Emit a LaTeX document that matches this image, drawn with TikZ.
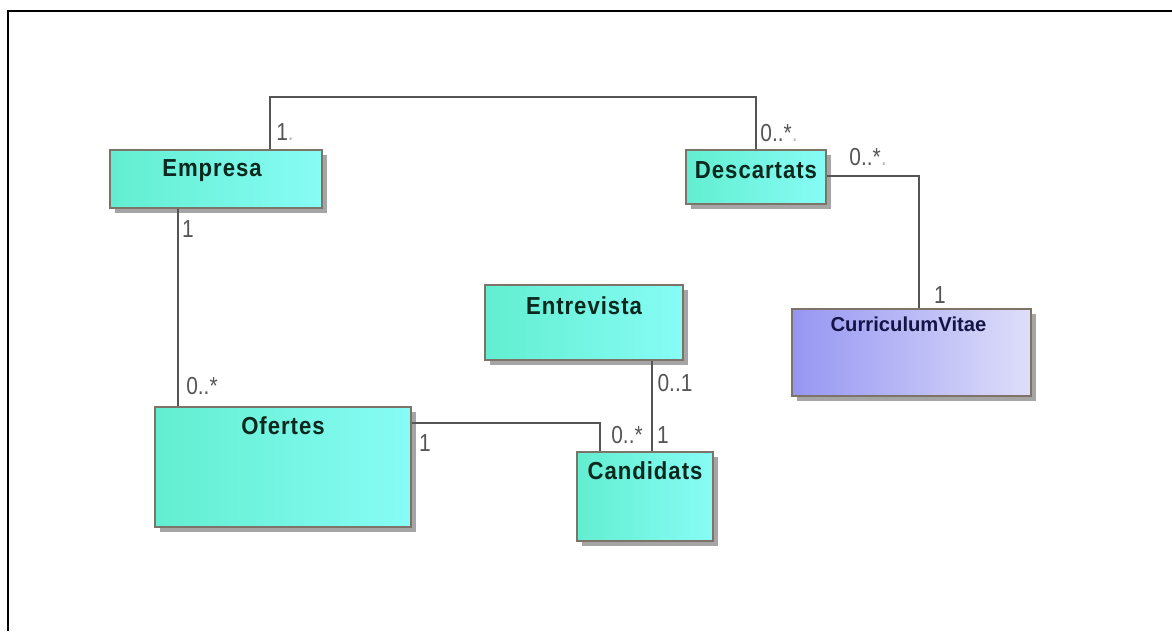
\documentclass[tikz,border=0pt]{standalone}
\usepackage{fontspec}
\usepackage{xcolor}
\usepackage{tikz}
\usetikzlibrary{shadows}
\setmainfont{Liberation Sans}
\newfontfamily\tenlopfont[LetterSpace=4,FakeStretch=0.9]{Liberation Sans}
\newfontfamily\boifont[FakeStretch=0.85]{Liberation Sans}
\definecolor{lopTrai}{RGB}{98,238,208}
\definecolor{lopPhai}{RGB}{135,252,245}
\definecolor{cvTrai}{RGB}{150,150,242}
\definecolor{cvPhai}{RGB}{222,222,250}
\definecolor{vienLop}{RGB}{125,115,105}
\definecolor{bong}{RGB}{165,165,165}
\definecolor{chuLop}{RGB}{10,40,30}
\definecolor{chuCV}{RGB}{20,20,70}
\definecolor{duong}{RGB}{85,85,85}
\definecolor{mo}{RGB}{185,185,185}
\tikzset{
	lop/.style={draw=vienLop, line width=0.35mm, left color=lopTrai, right color=lopPhai,
		drop shadow={shadow xshift=1mm, shadow yshift=-1mm, fill=bong, opacity=1}},
	lopcv/.style={lop, left color=cvTrai, right color=cvPhai},
	tieude/.style={anchor=center, text=chuLop, font=\tenlopfont\bfseries\fontsize{14}{16}\selectfont},
	tieudecv/.style={anchor=center, text=chuCV, font=\bfseries\fontsize{11.5}{13}\selectfont},
	lienket/.style={draw=duong, line width=0.35mm},
	boi/.style={text=duong, inner sep=0pt, font=\boifont\fontsize{14}{16}\selectfont}
}

\begin{document}
\begin{tikzpicture}[x=0.2mm, y=-0.2mm]
			\useasboundingbox (0,0) rectangle (1172,631);
			% Khung
			\draw[line width=0.45mm] (8,631) -- (8,11) -- (1172,11);
			% Các lớp
			\node[lop, minimum width=42.4mm, minimum height=11.6mm,
				label={[tieude, xshift=-0.8mm, yshift=-4.2mm]north:Empresa}] (empresa) at (216,179) {};
			\node[lop, minimum width=28mm, minimum height=10.8mm,
				label={[tieude, yshift=-4.2mm]north:Descartats}] (descartats) at (756,177) {};
			\node[lop, minimum width=39.6mm, minimum height=15mm,
				label={[tieude, yshift=-4.4mm]north:Entrevista}] (entrevista) at (584,322.5) {};
			\node[lopcv, minimum width=47.8mm, minimum height=17.4mm,
				label={[tieudecv, xshift=-0.6mm, yshift=-3.2mm]north:CurriculumVitae}] (cv) at (911.5,352.5) {};
			\node[lop, minimum width=51.2mm, minimum height=24mm,
				label={[tieude, yshift=-4mm]north:Ofertes}] (ofertes) at (283,467) {};
			\node[lop, minimum width=27.2mm, minimum height=17.8mm,
				label={[tieude, yshift=-4mm]north:Candidats}] (candidats) at (645,496.5) {};
			% Các liên kết
			\coordinate (ed) at (270,97);
			\coordinate (dc) at (919,176);
			\coordinate (eo) at (178,0);
			\coordinate (oc) at (600,423);
			\coordinate (ec) at (652,0);
			\draw[lienket] (empresa.north -| ed) -- (ed) -| (descartats.north);
			\draw[lienket] (descartats.east |- dc) -- (dc) -- (dc |- cv.north);
			\draw[lienket] (empresa.south -| eo) -- (ofertes.north -| eo);
			\draw[lienket] (ofertes.east |- oc) -- (oc) -- (oc |- candidats.north);
			\draw[lienket] (entrevista.south -| ec) -- (candidats.north -| ec);
			% Bội số
			\node[boi] (b1) at (285,132) {1\textcolor{mo}{.}};
			\node[boi] (b2) at (779,133) {0..*\textcolor{mo}{.}};
			\node[boi] (b3) at (868,157) {0..*\textcolor{mo}{.}};
			\node[boi] (b4) at (940,295) {1};
			\node[boi] (b5) at (188,229) {1};
			\node[boi] (b6) at (202,386) {0..*};
			\node[boi] (b7) at (425,443) {1};
			\node[boi] (b8) at (627,435) {0..*};
			\node[boi] (b9) at (663,435) {1};
			\node[boi] (b10) at (675,383) {0..1};
		\end{tikzpicture}
\end{document}
